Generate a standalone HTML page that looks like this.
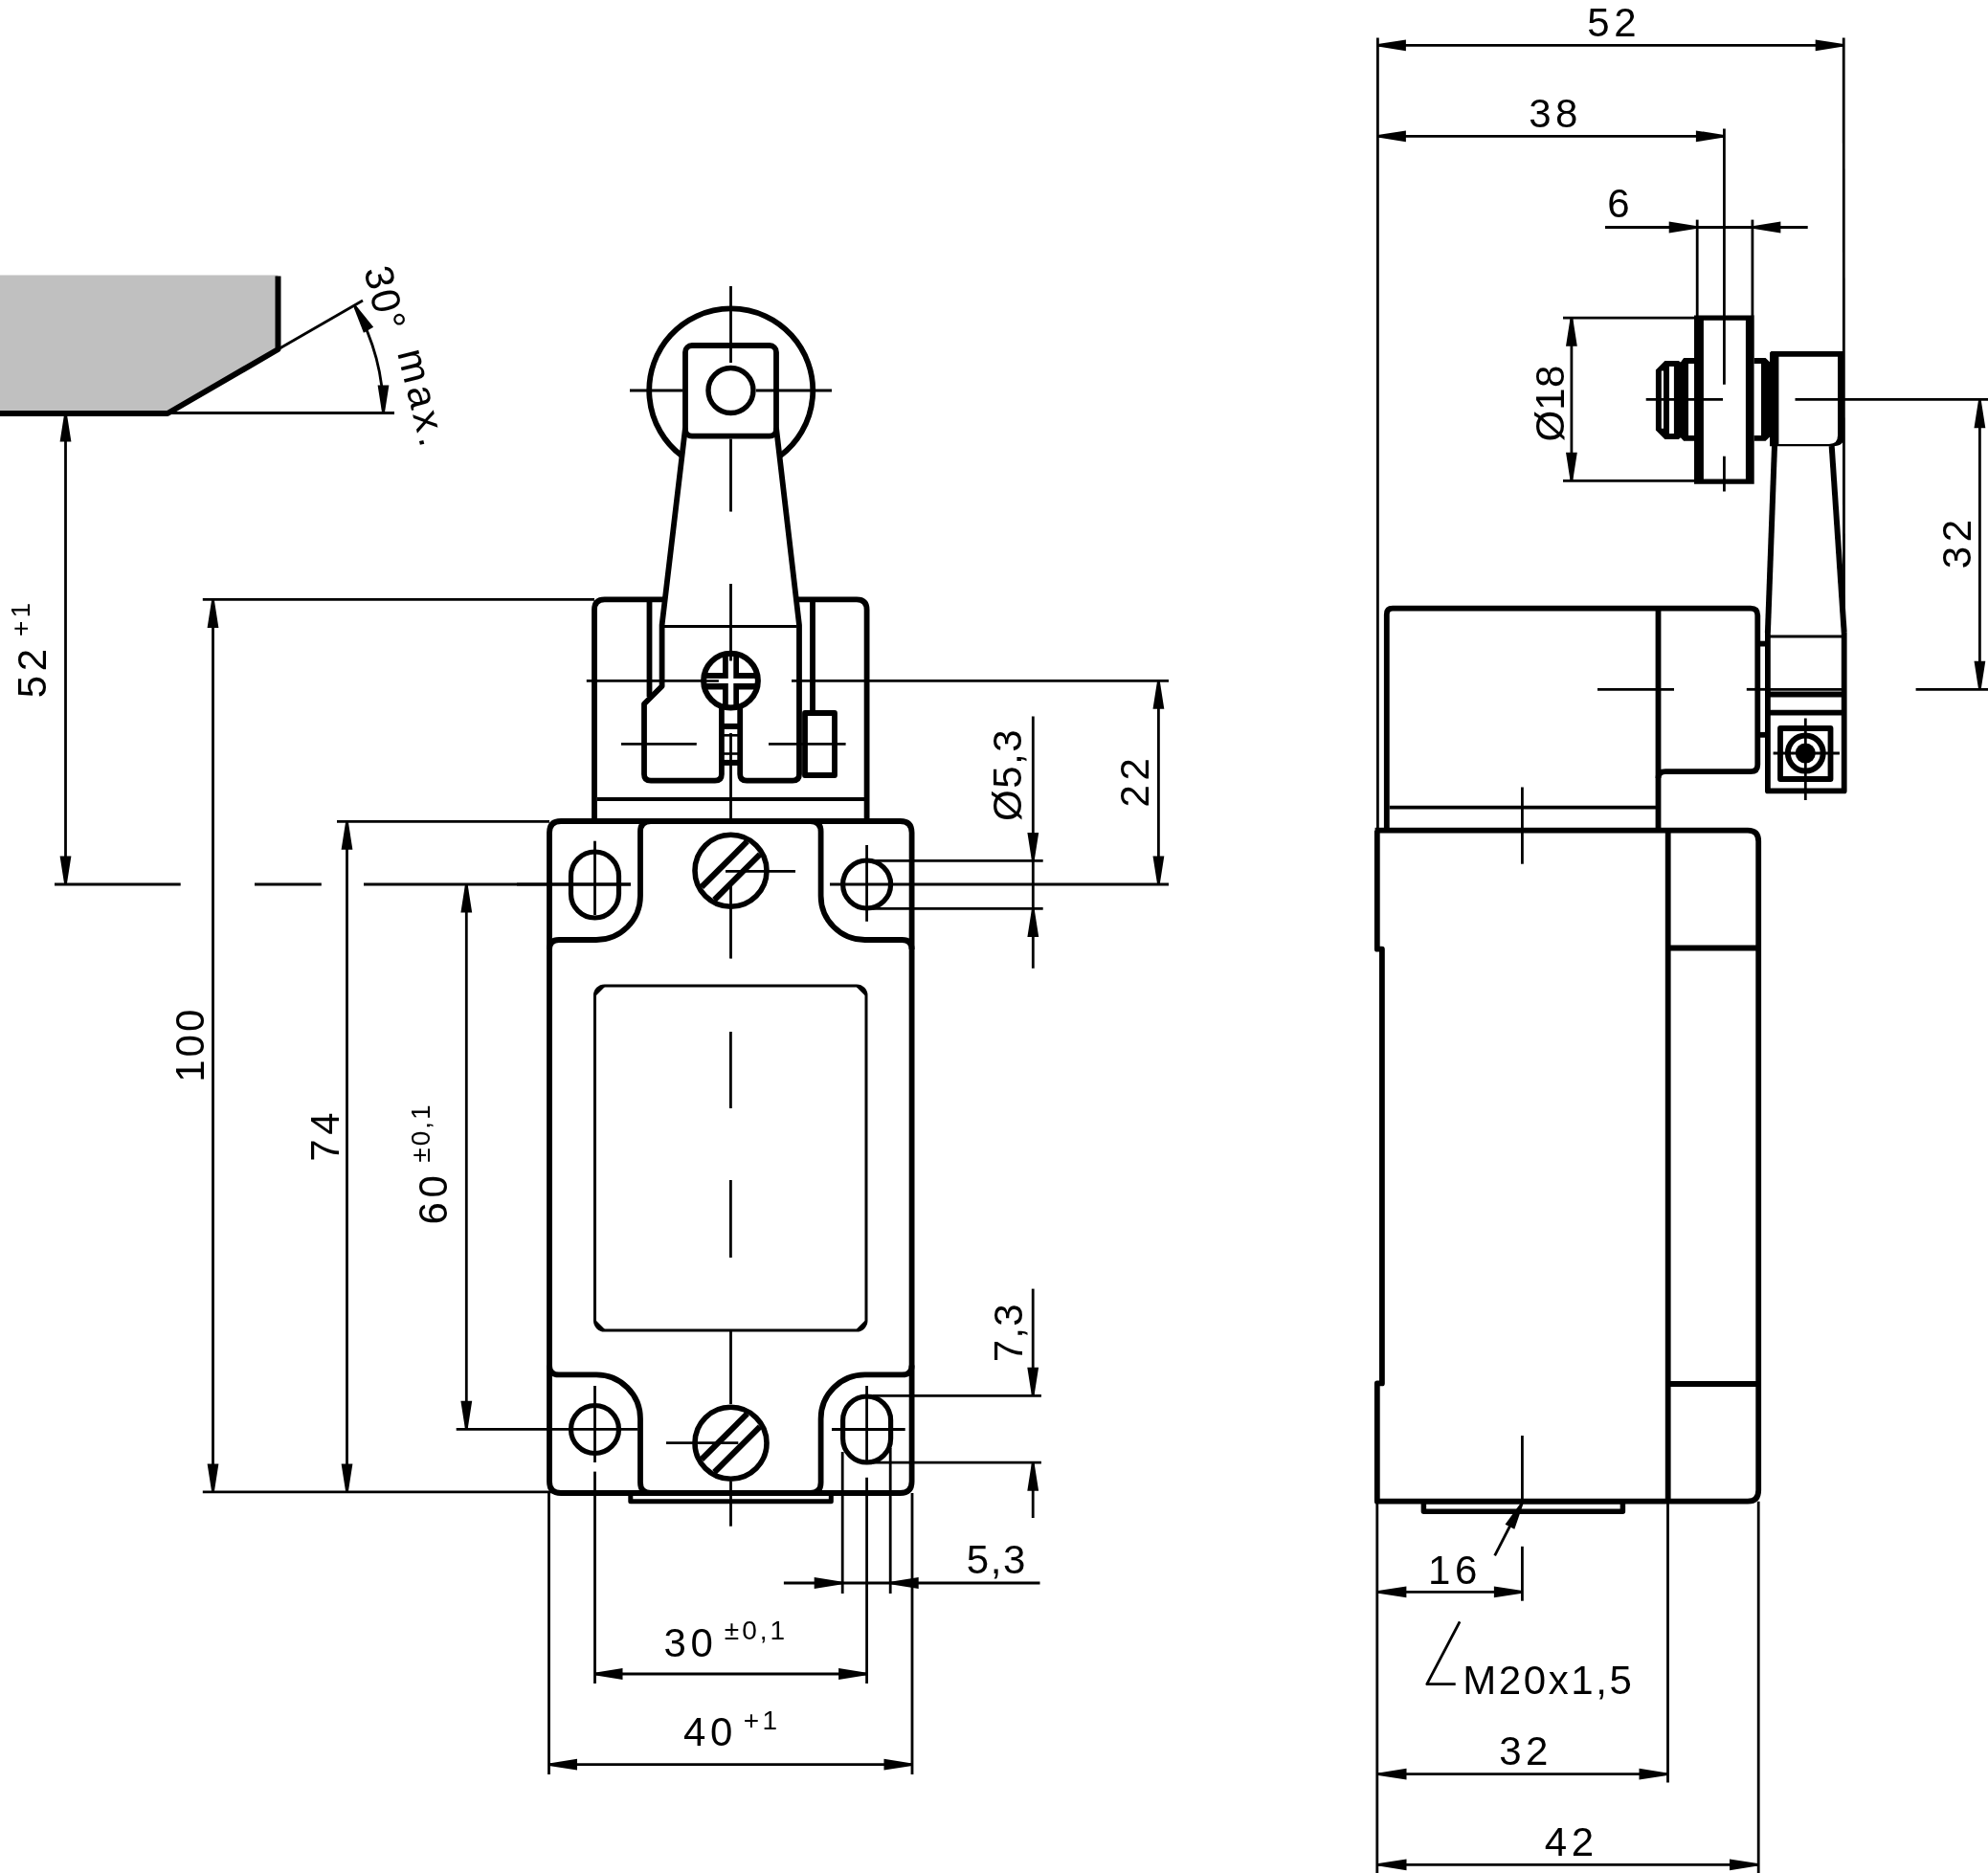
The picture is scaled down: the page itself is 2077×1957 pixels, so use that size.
<!DOCTYPE html>
<html><head><meta charset="utf-8"><style>
html,body{margin:0;padding:0;background:#fff;width:2077px;height:1957px;overflow:hidden}
svg{display:block;will-change:transform}
text{font-family:"Liberation Sans",sans-serif;fill:#000;stroke:none}
</style></head><body>
<svg width="2077" height="1957" viewBox="0 0 2077 1957" stroke="#000" fill="none" stroke-linecap="butt" stroke-linejoin="round">
<rect x="0" y="0" width="2077" height="1957" fill="#fff" stroke="none"/>
<polygon points="0,287.5 290.5,287.5 290.5,365 175,432 0,432" fill="#c0c0c0" stroke="none"/>
<path d="M0,432 L175,432 L290.5,365 L290.5,288.5" stroke-width="6" fill="none" />
<line x1="290.5" y1="365" x2="379" y2="314" stroke-width="2.8"/>
<line x1="175" y1="431.5" x2="412" y2="431.5" stroke-width="2.8"/>
<path d="M371.3,321.0 A225.5,225.5 0 0 1 400.5,432" stroke-width="2.8" fill="none" />
<polygon points="371.41,318.60 390.15,341.85 379.93,347.75 369.16,319.90" stroke="none" fill="#000"/>
<polygon points="399.20,432.00 394.60,402.50 406.40,402.50 401.80,432.00" stroke="none" fill="#000"/>
<text x="380" y="282" font-size="42" text-anchor="start" letter-spacing="2" transform="rotate(76 380 282)">30°</text>
<text x="415" y="368.5" font-size="42" text-anchor="start" letter-spacing="4" transform="rotate(76 415 368.5)">max.</text>
<line x1="68.5" y1="432" x2="68.5" y2="924" stroke-width="2.8"/>
<polygon points="69.80,432.00 74.40,461.50 62.60,461.50 67.20,432.00" stroke="none" fill="#000"/>
<polygon points="67.20,924.00 62.60,894.50 74.40,894.50 69.80,924.00" stroke="none" fill="#000"/>
<text x="48.1" y="701.2" font-size="42" text-anchor="middle" letter-spacing="4.6" transform="rotate(-90 48.1 701.2)">52</text>
<text x="30.9" y="645.8" font-size="28" text-anchor="middle" letter-spacing="3.3" transform="rotate(-90 30.9 645.8)">+1</text>
<line x1="57" y1="924" x2="188.7" y2="924" stroke-width="2.8"/>
<line x1="266" y1="924" x2="335.8" y2="924" stroke-width="2.8"/>
<line x1="380" y1="924" x2="659" y2="924" stroke-width="2.8"/>
<line x1="867" y1="924" x2="1221" y2="924" stroke-width="2.8"/>
<line x1="222.5" y1="626.5" x2="222.5" y2="1559" stroke-width="2.8"/>
<polygon points="223.80,626.50 228.40,656.00 216.60,656.00 221.20,626.50" stroke="none" fill="#000"/>
<polygon points="221.20,1559.00 216.60,1529.50 228.40,1529.50 223.80,1559.00" stroke="none" fill="#000"/>
<line x1="211.8" y1="626.4" x2="621" y2="626.4" stroke-width="2.8"/>
<line x1="211.8" y1="1558.8" x2="580" y2="1558.8" stroke-width="2.8"/>
<text x="213.3" y="1091.2" font-size="42" text-anchor="middle" letter-spacing="3.0" transform="rotate(-90 213.3 1091.2)">100</text>
<line x1="362.5" y1="858.3" x2="362.5" y2="1559" stroke-width="2.8"/>
<polygon points="363.80,858.30 368.40,887.80 356.60,887.80 361.20,858.30" stroke="none" fill="#000"/>
<polygon points="361.20,1559.00 356.60,1529.50 368.40,1529.50 363.80,1559.00" stroke="none" fill="#000"/>
<line x1="352" y1="858.3" x2="574" y2="858.3" stroke-width="2.8"/>
<text x="353.6" y="1185.7" font-size="42" text-anchor="middle" letter-spacing="4.6" transform="rotate(-90 353.6 1185.7)">74</text>
<line x1="487.3" y1="924" x2="487.3" y2="1493.3" stroke-width="2.8"/>
<polygon points="488.60,924.00 493.20,953.50 481.40,953.50 486.00,924.00" stroke="none" fill="#000"/>
<polygon points="486.00,1493.30 481.40,1463.80 493.20,1463.80 488.60,1493.30" stroke="none" fill="#000"/>
<line x1="476.7" y1="1493.3" x2="666" y2="1493.3" stroke-width="2.8"/>
<text x="467.4" y="1251.5" font-size="42" text-anchor="middle" letter-spacing="4.6" transform="rotate(-90 467.4 1251.5)">60</text>
<text x="448.5" y="1183.5" font-size="28" text-anchor="middle" letter-spacing="2.0" transform="rotate(-90 448.5 1183.5)">±0,1</text>
<path d="M712,476 A85.5,85.5 0 1 1 815.5,476" stroke-width="5.8" fill="none" />
<rect x="716" y="361" width="95" height="94.7" rx="7" stroke-width="5.8" fill="none"/>
<circle cx="763.5" cy="408" r="23.5" stroke-width="5.4" fill="none"/>
<line x1="658" y1="408" x2="713.5" y2="408" stroke-width="2.8"/>
<line x1="790" y1="408" x2="869" y2="408" stroke-width="2.8"/>
<line x1="763.5" y1="299" x2="763.5" y2="379" stroke-width="2.8"/>
<line x1="763.5" y1="458.5" x2="763.5" y2="534.6" stroke-width="2.8"/>
<line x1="763.5" y1="610" x2="763.5" y2="680" stroke-width="2.8"/>
<line x1="763.5" y1="766" x2="763.5" y2="858" stroke-width="2.8"/>
<path d="M621,858 L621,637 Q621,626.3 631.7,626.3 L693,626.3" stroke-width="5.8" fill="none" />
<path d="M833,626.3 L895,626.3 Q905.6,626.3 905.6,637 L905.6,858" stroke-width="5.8" fill="none" />
<line x1="678.5" y1="626.3" x2="678.5" y2="728" stroke-width="5.8"/>
<line x1="849" y1="626.3" x2="849" y2="745" stroke-width="5.8"/>
<path d="M716,447 L691.6,653 L691.6,717 L673,735.5 L673,809 Q673,815.7 680,815.7 L747,815.7 Q753.9,815.7 753.9,809 L753.9,740" stroke-width="5.8" fill="none" />
<path d="M773.2,740 L773.2,809 Q773.2,815.7 780.2,815.7 L828,815.7 Q835,815.7 835,809 L835,653 L811,447" stroke-width="5.8" fill="none" />
<rect x="841" y="745" width="31" height="65" rx="0" stroke-width="5.8" fill="none"/>
<line x1="694" y1="654.5" x2="832.5" y2="654.5" stroke-width="2.8"/>
<line x1="612.8" y1="711.3" x2="733" y2="711.3" stroke-width="2.8"/>
<line x1="827" y1="711.3" x2="1221" y2="711.3" stroke-width="2.8"/>
<line x1="649" y1="777.4" x2="727.8" y2="777.4" stroke-width="2.8"/>
<line x1="803" y1="777.4" x2="883.6" y2="777.4" stroke-width="2.8"/>
<line x1="624" y1="835" x2="903" y2="835" stroke-width="3.8"/>
<line x1="754" y1="758.9" x2="772.6" y2="758.9" stroke-width="6"/>
<line x1="754" y1="768.3" x2="772.6" y2="768.3" stroke-width="2.6"/>
<line x1="754" y1="787.5" x2="772.6" y2="787.5" stroke-width="2.6"/>
<line x1="754" y1="796.9" x2="772.6" y2="796.9" stroke-width="6"/>
<clipPath id="sc"><circle cx="763.5" cy="711.2" r="29"/></clipPath>
<clipPath id="sc2"><circle cx="763.5" cy="711.2" r="25.6"/></clipPath>
<circle cx="763.5" cy="711.2" r="28.4" fill="#fff" stroke="none"/>
<g clip-path="url(#sc)"><rect x="755" y="680" width="17" height="62" fill="#000" stroke="none"/><rect x="732" y="703" width="63" height="17.5" fill="#000" stroke="none"/></g>
<g clip-path="url(#sc2)"><rect x="760.8" y="680" width="5.5" height="62" fill="#fff" stroke="none"/><rect x="732" y="708.9" width="63" height="5.1" fill="#fff" stroke="none"/></g>
<circle cx="763.5" cy="711.2" r="28.4" stroke-width="6" fill="none"/>
<line x1="736" y1="711.5" x2="750.9" y2="711.5" stroke-width="2.6"/>
<line x1="763.5" y1="680" x2="763.5" y2="690.5" stroke-width="2.8"/>
<path d="M586,858 L940.6,858 Q952.6,858 952.6,870 L952.6,1548 Q952.6,1560 940.6,1560 L586,1560 Q574,1560 574,1548 L574,870 Q574,858 586,858 Z" stroke-width="5.8" fill="none" />
<path d="M574,992 Q574,982 584,982 L623,982 A46,46 0 0 0 669,936 L669,869 Q669,858 680,858" stroke-width="5.8" fill="none" />
<path d="M952.6,992 Q952.6,982 942.6,982 L903.6,982 A46,46 0 0 1 857.6,936 L857.6,869 Q857.6,858 846.6,858" stroke-width="5.8" fill="none" />
<path d="M574,1426.4 Q574,1436.4 584,1436.4 L623,1436.4 A46,46 0 0 1 669,1482.4 L669,1549 Q669,1560 680,1560" stroke-width="5.8" fill="none" />
<path d="M952.6,1426.4 Q952.6,1436.4 942.6,1436.4 L903.6,1436.4 A46,46 0 0 0 857.6,1482.4 L857.6,1549 Q857.6,1560 846.6,1560" stroke-width="5.8" fill="none" />
<path d="M596.5,915.0 A25,25 0 0 1 646.5,915.0 L646.5,934.0 A25,25 0 0 1 596.5,934.0 Z" stroke-width="5.2" fill="none" />
<circle cx="905.6" cy="924" r="25" stroke-width="5.2" fill="none"/>
<circle cx="621.5" cy="1493.5" r="25" stroke-width="5.2" fill="none"/>
<path d="M880.6,1484.0 A25,25 0 0 1 930.6,1484.0 L930.6,1503.0 A25,25 0 0 1 880.6,1503.0 Z" stroke-width="5.2" fill="none" />
<line x1="621.5" y1="878.7" x2="621.5" y2="956" stroke-width="2.8"/>
<line x1="540" y1="924" x2="658.9" y2="924" stroke-width="2.8"/>
<line x1="905.6" y1="883" x2="905.6" y2="962.8" stroke-width="2.8"/>
<line x1="621.5" y1="1448" x2="621.5" y2="1528" stroke-width="2.8"/>
<line x1="621.5" y1="1537.6" x2="621.5" y2="1759" stroke-width="2.8"/>
<line x1="905.6" y1="1448" x2="905.6" y2="1530" stroke-width="2.8"/>
<line x1="905.6" y1="1543.8" x2="905.6" y2="1759" stroke-width="2.8"/>
<line x1="869" y1="1493.5" x2="945.7" y2="1493.5" stroke-width="2.8"/>
<line x1="911.8" y1="899.4" x2="1089.7" y2="899.4" stroke-width="2.8"/>
<line x1="911.8" y1="949.4" x2="1089.7" y2="949.4" stroke-width="2.8"/>
<line x1="911.8" y1="1458.3" x2="1087.9" y2="1458.3" stroke-width="2.8"/>
<line x1="911.8" y1="1528.2" x2="1087.9" y2="1528.2" stroke-width="2.8"/>
<line x1="880.2" y1="1517" x2="880.2" y2="1665" stroke-width="2.8"/>
<line x1="930.2" y1="1513" x2="930.2" y2="1665" stroke-width="2.8"/>
<line x1="573.5" y1="1560" x2="573.5" y2="1854" stroke-width="2.8"/>
<line x1="953" y1="1560" x2="953" y2="1854" stroke-width="2.8"/>
<circle cx="763.5" cy="909.7" r="37.5" stroke-width="5.6" fill="none"/>
<line x1="732.9628508208227" y1="926.8021203366329" x2="780.6021203366329" y2="879.1628508208228" stroke-width="6.2"/>
<line x1="746.3978796633671" y1="940.2371491791773" x2="794.0371491791773" y2="892.5978796633672" stroke-width="6.2"/>
<circle cx="763.5" cy="1507.7" r="37.5" stroke-width="5.6" fill="none"/>
<line x1="732.9628508208227" y1="1524.802120336633" x2="780.6021203366329" y2="1477.1628508208228" stroke-width="6.2"/>
<line x1="746.3978796633671" y1="1538.2371491791773" x2="794.0371491791773" y2="1490.5978796633672" stroke-width="6.2"/>
<line x1="758" y1="910.4" x2="831" y2="910.4" stroke-width="2.8"/>
<line x1="763.5" y1="923" x2="763.5" y2="1001.6" stroke-width="2.8"/>
<line x1="696" y1="1507.7" x2="771.3" y2="1507.7" stroke-width="2.8"/>
<line x1="763.5" y1="1548" x2="763.5" y2="1594.7" stroke-width="2.8"/>
<line x1="763.5" y1="1390" x2="763.5" y2="1467" stroke-width="2.8"/>
<line x1="763.4" y1="1078" x2="763.4" y2="1158" stroke-width="2.8"/>
<line x1="763.4" y1="1233" x2="763.4" y2="1314" stroke-width="2.8"/>
<rect x="621.5" y="1030" width="283.5" height="360" rx="10" stroke-width="3" fill="none"/>
<polygon points="621.5,1040 624.5,1033 631.5,1030 631.5,1031.5 623.0,1040" fill="#000" stroke="none"/>
<polygon points="905,1040 902,1033 895,1030 895,1031.5 903.5,1040" fill="#000" stroke="none"/>
<polygon points="621.5,1380 624.5,1387 631.5,1390 631.5,1388.5 623.0,1380" fill="#000" stroke="none"/>
<polygon points="905,1380 902,1387 895,1390 895,1388.5 903.5,1380" fill="#000" stroke="none"/>
<rect x="658.8" y="1560" width="209.5" height="8.7" rx="0" stroke-width="5" fill="none"/>
<line x1="621" y1="1749" x2="905.6" y2="1749" stroke-width="2.8"/>
<polygon points="621.00,1747.70 650.50,1743.10 650.50,1754.90 621.00,1750.30" stroke="none" fill="#000"/>
<polygon points="905.60,1750.30 876.10,1754.90 876.10,1743.10 905.60,1747.70" stroke="none" fill="#000"/>
<text x="721.4" y="1730.5" font-size="42" text-anchor="middle" letter-spacing="4.6">30</text>
<text x="790.0" y="1712.5" font-size="28" text-anchor="middle" letter-spacing="3.0">±0,1</text>
<line x1="573.5" y1="1843.7" x2="953" y2="1843.7" stroke-width="2.8"/>
<polygon points="573.50,1842.40 603.00,1837.80 603.00,1849.60 573.50,1845.00" stroke="none" fill="#000"/>
<polygon points="953.00,1845.00 923.50,1849.60 923.50,1837.80 953.00,1842.40" stroke="none" fill="#000"/>
<text x="742.0" y="1823.5" font-size="42" text-anchor="middle" letter-spacing="4.6">40</text>
<text x="796.2" y="1807.3" font-size="28" text-anchor="middle" letter-spacing="3.4">+1</text>
<line x1="818.9" y1="1654" x2="1086.5" y2="1654" stroke-width="2.8"/>
<polygon points="880.20,1655.30 850.70,1659.90 850.70,1648.10 880.20,1652.70" stroke="none" fill="#000"/>
<polygon points="930.20,1652.70 959.70,1648.10 959.70,1659.90 930.20,1655.30" stroke="none" fill="#000"/>
<text x="1041.4" y="1643.5" font-size="42" text-anchor="middle" letter-spacing="1.6">5,3</text>
<line x1="1210.4" y1="711.3" x2="1210.4" y2="924" stroke-width="2.8"/>
<polygon points="1211.70,711.30 1216.30,740.80 1204.50,740.80 1209.10,711.30" stroke="none" fill="#000"/>
<polygon points="1209.10,924.00 1204.50,894.50 1216.30,894.50 1211.70,924.00" stroke="none" fill="#000"/>
<text x="1200.0" y="815.5" font-size="42" text-anchor="middle" letter-spacing="4.6" transform="rotate(-90 1200.0 815.5)">22</text>
<line x1="1079.3" y1="748.6" x2="1079.3" y2="1011.8" stroke-width="2.8"/>
<polygon points="1078.00,899.40 1073.40,869.90 1085.20,869.90 1080.60,899.40" stroke="none" fill="#000"/>
<polygon points="1080.60,949.40 1085.20,978.90 1073.40,978.90 1078.00,949.40" stroke="none" fill="#000"/>
<text x="1067.2" y="809.4" font-size="42" text-anchor="middle" letter-spacing="1.53" transform="rotate(-90 1067.2 809.4)">Ø5,3</text>
<line x1="1079.2" y1="1346.6" x2="1079.2" y2="1458.3" stroke-width="2.8"/>
<line x1="1079.2" y1="1528.2" x2="1079.2" y2="1586" stroke-width="2.8"/>
<polygon points="1077.90,1458.30 1073.30,1428.80 1085.10,1428.80 1080.50,1458.30" stroke="none" fill="#000"/>
<polygon points="1080.50,1528.20 1085.10,1557.70 1073.30,1557.70 1077.90,1528.20" stroke="none" fill="#000"/>
<text x="1068.0" y="1392.3" font-size="42" text-anchor="middle" letter-spacing="1.2" transform="rotate(-90 1068.0 1392.3)">7,3</text>
<line x1="1439.4" y1="47.3" x2="1926.2" y2="47.3" stroke-width="2.8"/>
<polygon points="1439.40,46.00 1468.90,41.40 1468.90,53.20 1439.40,48.60" stroke="none" fill="#000"/>
<polygon points="1926.20,48.60 1896.70,53.20 1896.70,41.40 1926.20,46.00" stroke="none" fill="#000"/>
<line x1="1439.4" y1="39.4" x2="1439.4" y2="866" stroke-width="2.8"/>
<line x1="1926.2" y1="39.4" x2="1926.5" y2="661" stroke-width="2.8"/>
<text x="1686.3" y="37.9" font-size="42" text-anchor="middle" letter-spacing="4.6">52</text>
<line x1="1439.4" y1="142.3" x2="1801.4" y2="142.3" stroke-width="2.8"/>
<polygon points="1439.40,141.00 1468.90,136.40 1468.90,148.20 1439.40,143.60" stroke="none" fill="#000"/>
<polygon points="1801.40,143.60 1771.90,148.20 1771.90,136.40 1801.40,141.00" stroke="none" fill="#000"/>
<line x1="1801.4" y1="134.6" x2="1801.4" y2="401.8" stroke-width="2.8"/>
<line x1="1801.4" y1="476.7" x2="1801.4" y2="513.5" stroke-width="2.8"/>
<text x="1625.1" y="133.4" font-size="42" text-anchor="middle" letter-spacing="4.6">38</text>
<line x1="1677" y1="237.5" x2="1888.7" y2="237.5" stroke-width="2.8"/>
<polygon points="1773.20,238.80 1743.70,243.40 1743.70,231.60 1773.20,236.20" stroke="none" fill="#000"/>
<polygon points="1830.90,236.20 1860.40,231.60 1860.40,243.40 1830.90,238.80" stroke="none" fill="#000"/>
<line x1="1773.2" y1="229.6" x2="1773.2" y2="330" stroke-width="2.8"/>
<line x1="1830.9" y1="229.6" x2="1830.9" y2="330" stroke-width="2.8"/>
<text x="1691.8" y="227.4" font-size="42" text-anchor="middle" letter-spacing="1.5">6</text>
<line x1="1641.9" y1="332.2" x2="1641.9" y2="502.3" stroke-width="2.8"/>
<polygon points="1643.20,332.20 1647.80,361.70 1636.00,361.70 1640.60,332.20" stroke="none" fill="#000"/>
<polygon points="1640.60,502.30 1636.00,472.80 1647.80,472.80 1643.20,502.30" stroke="none" fill="#000"/>
<line x1="1633" y1="332.2" x2="1771" y2="332.2" stroke-width="2.8"/>
<line x1="1633" y1="502.3" x2="1771" y2="502.3" stroke-width="2.8"/>
<text x="1633.9" y="421.5" font-size="42" text-anchor="middle" letter-spacing="0.2" transform="rotate(-90 1633.9 421.5)">Ø18</text>
<path d="M1770,329.6 L1832.7,329.6 L1832.7,505.8 L1770,505.8 Z M1779.9,334.7 L1779.9,500.6 L1823.9,500.6 L1823.9,334.7 Z" fill="#000" stroke="none" fill-rule="evenodd"/>
<polygon points="1729.9,386.4 1739.4,376.9 1753.8,376.9 1755.9,378.5 1759.1,374.1 1770,374.1 1770,460.7 1759.1,460.7 1755.9,457.3 1753.8,459 1739.4,459 1729.9,449.5" fill="#000" stroke="none"/>
<rect x="1735.8" y="387.5" width="2.2" height="60.2" fill="#fff" stroke="none"/>
<rect x="1744" y="382.9" width="4.9" height="70.1" fill="#fff" stroke="none"/>
<rect x="1764" y="380" width="6" height="75" fill="#fff" stroke="none"/>
<polygon points="1832.7,374.1 1844.6,374.1 1849,378.3 1849,456.5 1844.6,460.7 1832.7,460.7" fill="#000" stroke="none"/>
<rect x="1832.7" y="380" width="7.3" height="75" fill="#fff" stroke="none"/>
<line x1="1719.7" y1="417.3" x2="1800" y2="417.3" stroke-width="2.8"/>
<line x1="1875.5" y1="417.3" x2="2077" y2="417.3" stroke-width="2.8"/>
<path d="M1849,368.5 L1850.5,367 L1927,367 L1927,455 Q1927,466.3 1915,466.3 L1849,466.3 Z M1858.4,372.7 L1858.4,463.9 L1911,463.9 Q1920,463.9 1920,455 L1920,372.7 Z" fill="#000" stroke="none" fill-rule="evenodd"/>
<line x1="1854" y1="466" x2="1846.9" y2="661" stroke-width="6"/>
<line x1="1913.7" y1="466" x2="1926.7" y2="661" stroke-width="6"/>
<path d="M1846.9,661 L1846.9,826.4 L1926.7,826.4 L1926.7,661" stroke-width="5.8" fill="none" />
<line x1="1846.9" y1="665" x2="1926.7" y2="665" stroke-width="2.8"/>
<line x1="1846.9" y1="720.3" x2="1926.7" y2="720.3" stroke-width="2.8"/>
<line x1="1846.9" y1="725.5" x2="1926.7" y2="725.5" stroke-width="5.8"/>
<line x1="1846.9" y1="744.7" x2="1926.7" y2="744.7" stroke-width="5.8"/>
<rect x="1860" y="761" width="52.5" height="53" rx="0" stroke-width="5.8" fill="none"/>
<circle cx="1886.3" cy="787" r="18.4" stroke-width="6" fill="none"/>
<circle cx="1886.3" cy="787" r="10.5" stroke-width="0" fill="#000"/>
<line x1="1886.3" y1="750.5" x2="1886.3" y2="836" stroke-width="2.8"/>
<line x1="1852.6" y1="787" x2="1921.9" y2="787" stroke-width="2.8"/>
<line x1="1837" y1="672.6" x2="1845" y2="672.6" stroke-width="5.8"/>
<line x1="1837" y1="767.8" x2="1845" y2="767.8" stroke-width="5.8"/>
<path d="M1448.8,866.7 L1448.8,642 Q1448.8,635.7 1455,635.7 L1829,635.7 Q1836.3,635.7 1836.3,643 L1836.3,799 Q1836.3,806.2 1829,806.2 L1740,806.2 Q1732.5,806.2 1732.5,813" stroke-width="5.8" fill="none" />
<line x1="1732.5" y1="635.7" x2="1732.5" y2="866.7" stroke-width="5.8"/>
<line x1="1451.7" y1="843.7" x2="1730.4" y2="843.7" stroke-width="3.8"/>
<line x1="1669" y1="720.3" x2="1749" y2="720.3" stroke-width="2.8"/>
<line x1="1824.8" y1="720.3" x2="1846.9" y2="720.3" stroke-width="2.8"/>
<line x1="2001.6" y1="720.3" x2="2077" y2="720.3" stroke-width="2.8"/>
<line x1="2068.4" y1="417.8" x2="2068.4" y2="720.3" stroke-width="2.8"/>
<polygon points="2069.70,417.80 2074.30,447.30 2062.50,447.30 2067.10,417.80" stroke="none" fill="#000"/>
<polygon points="2067.10,720.30 2062.50,690.80 2074.30,690.80 2069.70,720.30" stroke="none" fill="#000"/>
<text x="2059.2" y="566.3" font-size="42" text-anchor="middle" letter-spacing="4.6" transform="rotate(-90 2059.2 566.3)">32</text>
<line x1="1590.4" y1="822.5" x2="1590.4" y2="902.7" stroke-width="2.8"/>
<path d="M1436.6,867.7 L1826,867.7 Q1837.2,867.7 1837.2,879 L1837.2,1557 Q1837.2,1568.7 1826,1568.7 L1438.8,1568.7 L1438.8,1445.4 L1443.9,1445.4 L1443.9,991.7 L1438.8,991.7 L1438.8,867.7" stroke-width="5.8" fill="none" />
<line x1="1742.7" y1="867.7" x2="1742.7" y2="1568.7" stroke-width="5.8"/>
<line x1="1742.7" y1="990.5" x2="1837.2" y2="990.5" stroke-width="5.8"/>
<line x1="1742.7" y1="1446" x2="1837.2" y2="1446" stroke-width="5.8"/>
<rect x="1487.4" y="1568.7" width="208" height="10.6" rx="0" stroke-width="5.5" fill="none"/>
<line x1="1590.4" y1="1500" x2="1590.4" y2="1570" stroke-width="2.8"/>
<line x1="1561.7" y1="1625.3" x2="1585" y2="1580" stroke-width="2.8"/>
<polygon points="1591.55,1571.00 1582.30,1597.76 1572.55,1592.67 1589.25,1569.80" stroke="none" fill="#000"/>
<line x1="1438.8" y1="1568.7" x2="1438.8" y2="1957" stroke-width="2.8"/>
<line x1="1742.5" y1="1568.7" x2="1742.5" y2="1862.6" stroke-width="2.8"/>
<line x1="1837.2" y1="1568.7" x2="1837.2" y2="1957" stroke-width="2.8"/>
<line x1="1439.9" y1="1663.4" x2="1590.4" y2="1663.4" stroke-width="2.8"/>
<polygon points="1439.90,1662.10 1469.40,1657.50 1469.40,1669.30 1439.90,1664.70" stroke="none" fill="#000"/>
<polygon points="1590.40,1664.70 1560.90,1669.30 1560.90,1657.50 1590.40,1662.10" stroke="none" fill="#000"/>
<line x1="1590.4" y1="1615.8" x2="1590.4" y2="1672.7" stroke-width="2.8"/>
<text x="1519.9" y="1654.6" font-size="42" text-anchor="middle" letter-spacing="4.6">16</text>
<line x1="1440" y1="1853.7" x2="1742" y2="1853.7" stroke-width="2.8"/>
<polygon points="1440.00,1852.40 1469.50,1847.80 1469.50,1859.60 1440.00,1855.00" stroke="none" fill="#000"/>
<polygon points="1742.00,1855.00 1712.50,1859.60 1712.50,1847.80 1742.00,1852.40" stroke="none" fill="#000"/>
<text x="1594.1" y="1844.3" font-size="42" text-anchor="middle" letter-spacing="4.6">32</text>
<line x1="1440" y1="1948.3" x2="1836.5" y2="1948.3" stroke-width="2.8"/>
<polygon points="1440.00,1947.00 1469.50,1942.40 1469.50,1954.20 1440.00,1949.60" stroke="none" fill="#000"/>
<polygon points="1836.50,1949.60 1807.00,1954.20 1807.00,1942.40 1836.50,1947.00" stroke="none" fill="#000"/>
<text x="1641.7" y="1939.0" font-size="42" text-anchor="middle" letter-spacing="4.6">42</text>
<path d="M1525.1,1694.4 L1490.8,1759.7 L1520.7,1759.7" stroke-width="2.8" fill="none" />
<text x="1528.3" y="1770.2" font-size="42" text-anchor="start" letter-spacing="2.57">M20x1,5</text>
</svg></body></html>
